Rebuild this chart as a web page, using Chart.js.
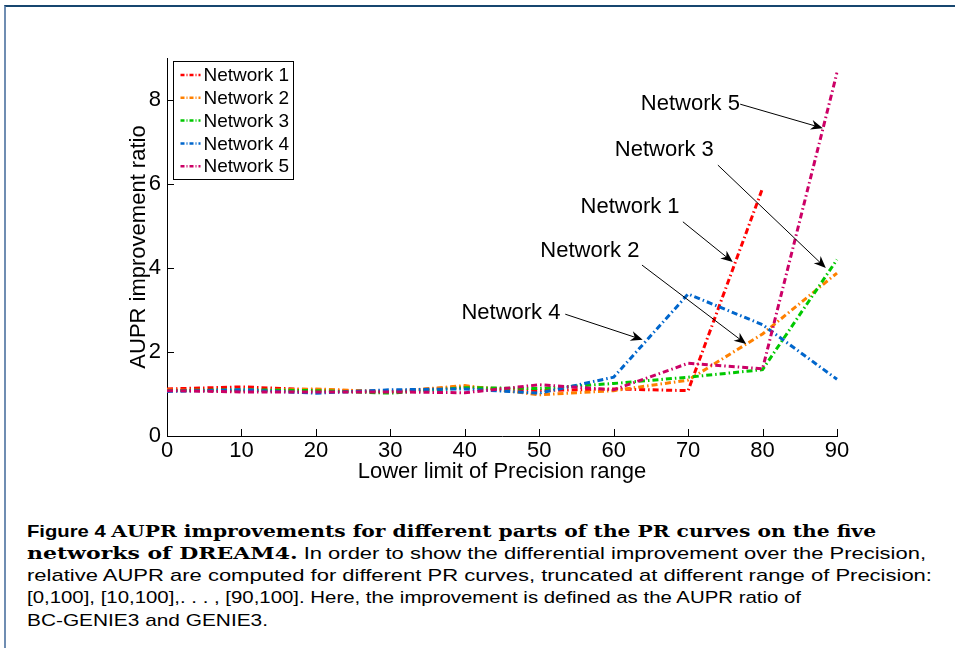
<!DOCTYPE html>
<html>
<head>
<meta charset="utf-8">
<script src="https://cdn.jsdelivr.net/npm/chart.js@4.4.1/dist/chart.umd.min.js"></script>
<style>
  html, body { margin: 0; padding: 0; background: #fff; }
  #page { position: relative; width: 955px; height: 648px; overflow: hidden; background: #fff; }
  #frame { position: absolute; left: 4px; top: 5px; width: 1000px; height: 700px;
           border-top: 2px solid #17466f; border-left: 2px solid #6f8db2; }
  #wrap { position: absolute; left: 0; top: 0; width: 955px; height: 500px; }
  #caption { position: absolute; left: 27px; top: 520px; color: #000;
             font-family: 'Liberation Sans', Arial, sans-serif; font-size: 17px; }
  .ln { white-space: nowrap; height: 22.4px; line-height: 22.4px; transform-origin: 0 50%; }
  .fig { font-weight: bold; }
  .bs { font-family: 'DejaVu Serif', serif; font-weight: bold; }
</style>
</head>
<body>
<div id="page">
  <div id="frame"></div>
  <div id="wrap"><canvas id="aupr" width="955" height="500"></canvas></div>
  <div id="caption">
    <div class="ln" data-w="849"><span class="fig">Figure 4</span> <span class="bs">AUPR improvements for different parts of the PR curves on the five</span></div>
    <div class="ln" data-w="899"><span class="bs">networks of DREAM4.</span> In order to show the differential improvement over the Precision,</div>
    <div class="ln" data-w="905">relative AUPR are computed for different PR curves, truncated at different range of Precision:</div>
    <div class="ln" data-w="774">[0,100], [10,100],. . . , [90,100]. Here, the improvement is defined as the AUPR ratio of</div>
    <div class="ln" data-w="241">BC-GENIE3 and GENIE3.</div>
  </div>
</div>
<script>
// lower limit of precision range (x categories)
const precision = ['0', '10', '20', '30', '40', '50', '60', '70', '80', '90'];
const yTicks = [0, 2, 4, 6, 8];

const network1 = [1.12, 1.17, 1.10, 1.06, 1.17, 1.08, 1.12, 1.08, 5.90, null];
const network2 = [1.10, 1.07, 1.12, 1.05, 1.20, 0.98, 1.08, 1.33, 2.43, 3.88];
const network3 = [1.08, 1.10, 1.08, 1.02, 1.15, 1.13, 1.25, 1.40, 1.58, 4.20];
const network4 = [1.06, 1.10, 1.02, 1.10, 1.12, 1.02, 1.40, 3.38, 2.65, 1.35];
const network5 = [1.08, 1.05, 1.05, 1.05, 1.03, 1.22, 1.10, 1.73, 1.60, 8.65];

const names = ['Network 1', 'Network 2', 'Network 3', 'Network 4', 'Network 5'];
const colors = ['#ff0000', '#ff8000', '#00c800', '#0066cc', '#cc0066'];

// callout text and arrows, in data units
const callouts = [
  { label: 'Network 5', at: [70.3, 7.90], from: [77.0, 7.90], to: [88.1, 7.33] },
  { label: 'Network 3', at: [66.8, 6.81], from: [74.0, 6.45], to: [88.5, 4.00] },
  { label: 'Network 1', at: [62.2, 5.45], from: [69.3, 5.10], to: [76.0, 4.14] },
  { label: 'Network 2', at: [56.8, 4.40], from: [63.8, 4.07], to: [77.8, 2.19] },
  { label: 'Network 4', at: [46.2, 2.93], from: [53.5, 2.90], to: [63.9, 2.29] }
];

const series = [network1, network2, network3, network4, network5];
const dash = [6, 3, 1.5, 3];

const insideTicks = {
  id: 'insideTicks',
  afterDraw(chart) {
    const ctx = chart.ctx;
    const x = chart.scales.x, y = chart.scales.y;
    const a = chart.chartArea;
    ctx.save();
    ctx.strokeStyle = '#000';
    ctx.lineWidth = 1;
    ctx.beginPath();
    precision.forEach((p, i) => {
      const px = Math.round(x.getPixelForValue(i)) + 0.5;
      ctx.moveTo(px, a.bottom);
      ctx.lineTo(px, a.bottom - 7);
    });
    yTicks.forEach(v => {
      const py = Math.round(y.getPixelForValue(v)) + 0.5;
      ctx.moveTo(a.left, py);
      ctx.lineTo(a.left + 7, py);
    });
    ctx.stroke();
    ctx.restore();
  }
};

const arrows = {
  id: 'arrows',
  afterDatasetsDraw(chart) {
    const ctx = chart.ctx;
    const x = chart.scales.x, y = chart.scales.y;
    const px = v => x.getPixelForValue(v / 10);
    const py = v => y.getPixelForValue(v);
    ctx.save();
    ctx.fillStyle = '#000';
    ctx.strokeStyle = '#000';
    ctx.lineWidth = 1;
    ctx.font = '22px "Liberation Sans", Arial, sans-serif';
    ctx.textAlign = 'center';
    ctx.textBaseline = 'middle';
    callouts.forEach(c => {
      ctx.fillText(c.label, px(c.at[0]), py(c.at[1]));
      const x1 = px(c.from[0]), y1 = py(c.from[1]);
      const x2 = px(c.to[0]), y2 = py(c.to[1]);
      const ang = Math.atan2(y2 - y1, x2 - x1);
      const L = 12, W = 5;
      ctx.beginPath();
      ctx.moveTo(x1, y1);
      ctx.lineTo(x2 - Math.cos(ang) * 6, y2 - Math.sin(ang) * 6);
      ctx.stroke();
      const bx = x2 - Math.cos(ang) * L, by = y2 - Math.sin(ang) * L;
      const nx = x2 - Math.cos(ang) * L * 0.7, ny = y2 - Math.sin(ang) * L * 0.7;
      ctx.beginPath();
      ctx.moveTo(x2, y2);
      ctx.lineTo(bx - Math.sin(ang) * W, by + Math.cos(ang) * W);
      ctx.lineTo(nx, ny);
      ctx.lineTo(bx + Math.sin(ang) * W, by - Math.cos(ang) * W);
      ctx.closePath();
      ctx.fill();
    });
    ctx.restore();
  }
};

const boxLegend = {
  id: 'boxLegend',
  afterDraw(chart) {
    const ctx = chart.ctx;
    const a = chart.chartArea;
    const bx = a.left + 6.5, by = a.top + 3.5, bw = 120, bh = 118;
    ctx.save();
    ctx.fillStyle = '#fff';
    ctx.fillRect(bx, by, bw, bh);
    ctx.strokeStyle = '#000';
    ctx.lineWidth = 1;
    ctx.strokeRect(bx, by, bw, bh);
    ctx.font = '19px "Liberation Sans", Arial, sans-serif';
    ctx.textBaseline = 'middle';
    ctx.textAlign = 'left';
    chart.data.datasets.forEach((ds, i) => {
      const cy = by + 13.5 + i * 22.8;
      ctx.strokeStyle = ds.borderColor;
      ctx.lineWidth = 2.5;
      ctx.setLineDash([4, 2, 1, 2]);
      ctx.beginPath();
      ctx.moveTo(bx + 7, cy);
      ctx.lineTo(bx + 27, cy);
      ctx.stroke();
      ctx.setLineDash([]);
      ctx.fillStyle = '#000';
      ctx.fillText(ds.label, bx + 30, cy + 1);
    });
    ctx.restore();
  }
};

new Chart(document.getElementById('aupr'), {
  type: 'line',
  data: {
    labels: precision,
    datasets: series.map((d, i) => ({
      label: names[i],
      data: d,
      borderColor: colors[i],
      backgroundColor: colors[i],
      borderWidth: 3,
      borderDash: dash,
      pointRadius: 0,
      tension: 0,
      fill: false,
      spanGaps: false,
      order: 5 - i
    }))
  },
  options: {
    responsive: false,
    animation: false,
    layout: { padding: { left: 126, top: 58, right: 118, bottom: 15 } },
    plugins: {
      legend: { display: false },
      tooltip: { enabled: false }
    },
    scales: {
      x: {
        type: 'category',
        offset: false,
        grid: { display: false, drawTicks: false },
        border: { display: true, color: '#000', width: 1 },
        ticks: {
          color: '#000', padding: 2, maxRotation: 0, autoSkip: false,
          font: { family: '"Liberation Sans", Arial, sans-serif', size: 22 }
        },
        title: {
          display: true, text: 'Lower limit of Precision range', color: '#000',
          padding: 0,
          font: { family: '"Liberation Sans", Arial, sans-serif', size: 22 }
        },
        afterFit: s => { s.height = 49; }
      },
      y: {
        min: 0,
        max: 9,
        grid: { display: false, drawTicks: false },
        border: { display: true, color: '#000', width: 1 },
        afterBuildTicks: s => { s.ticks = yTicks.map(v => ({ value: v })); },
        ticks: {
          color: '#000', padding: 6,
          font: { family: '"Liberation Sans", Arial, sans-serif', size: 22 }
        },
        title: {
          display: true, text: 'AUPR improvement ratio', color: '#000',
          padding: 0,
          font: { family: '"Liberation Sans", Arial, sans-serif', size: 22 }
        },
        afterFit: s => { s.width = 41; }
      }
    }
  },
  plugins: [insideTicks, arrows, boxLegend]
});

// fit each caption line to the width it has in the figure
document.querySelectorAll('#caption .ln').forEach(el => {
  const span = document.createElement('span');
  while (el.firstChild) span.appendChild(el.firstChild);
  el.appendChild(span);
  const w = span.getBoundingClientRect().width;
  const target = +el.dataset.w;
  if (w > 0) el.style.transform = 'scaleX(' + (target / w).toFixed(4) + ')';
});
</script>
</body>
</html>
